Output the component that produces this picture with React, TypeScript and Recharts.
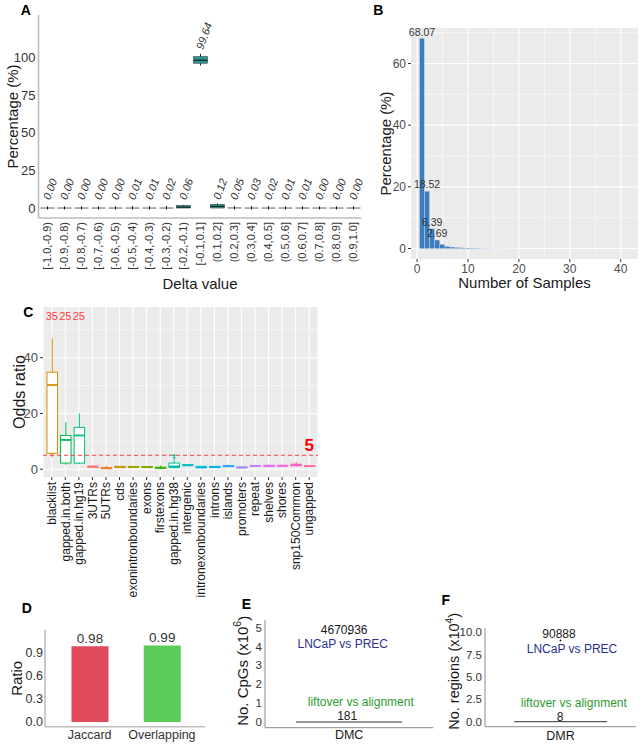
import React from 'react';
import {
  ComposedChart,
  Bar,
  Scatter,
  XAxis,
  YAxis,
  CartesianGrid,
  ReferenceLine,
  ReferenceDot,
  LabelList,
  Cell,
} from 'recharts';

const FONT = '"Liberation Sans", Arial, Helvetica, sans-serif';

// ---------- A: delta value bins (percentage per bin, boxplots over samples)
const deltaBins = [
  '[-1.0,-0.9)', '[-0.9,-0.8)', '[-0.8,-0.7)', '[-0.7,-0.6)', '[-0.6,-0.5)',
  '[-0.5,-0.4)', '[-0.4,-0.3)', '[-0.3,-0.2)', '[-0.2,-0.1)', '[-0.1,0.1]',
  '(0.1,0.2]', '(0.2,0.3]', '(0.3,0.4]', '(0.4,0.5]', '(0.5,0.6]',
  '(0.6,0.7]', '(0.7,0.8]', '(0.8,0.9]', '(0.9,1.0]',
];
const deltaPct = [0, 0, 0, 0, 0, 0.01, 0.01, 0.02, 0.06, 99.64, 0.12, 0.05, 0.03, 0.02, 0.01, 0.01, 0, 0, 0];
const deltaMin = [0, 0, 0, 0, 0, 0, 0, 0, 0, 94.5, 0, 0, 0, 0, 0, 0, 0, 0, 0];
const deltaQ1 = [0, 0, 0, 0, 0, 0, 0, 0, 0, 96, 0, 0, 0, 0, 0, 0, 0, 0, 0];
const deltaMed = [0, 0, 0, 0, 0, 0, 0, 0, 0.6, 98, 1.1, 0.1, 0, 0, 0, 0, 0, 0, 0];
const deltaQ3 = [0, 0, 0, 0, 0, 0, 0, 0, 1.8, 100.5, 2.5, 0.3, 0, 0, 0, 0, 0, 0, 0];
const deltaMax = [1.2, 1.2, 1.2, 1.2, 1.2, 1.3, 1.3, 1.4, 2.2, 102.3, 3.2, 1.5, 1.3, 1.3, 1.2, 1.2, 1.2, 1.2, 1.2];

// ---------- B: number of samples histogram
const sampleCounts = [1, 2, 3, 4, 5, 6, 7, 8, 9, 10, 11, 12, 13, 14, 15, 16, 17, 18, 19, 20];
const samplePct = [68.07, 18.52, 6.39, 2.69, 1.3, 0.65, 0.42, 0.3, 0.22, 0.17, 0.13, 0.1, 0.08, 0.065, 0.05, 0.04, 0.032, 0.025, 0.02, 0.015];
const samplePctLabels = ['68.07', '18.52', '6.39', '2.69', '', '', '', '', '', '', '', '', '', '', '', '', '', '', '', ''];

// ---------- C: odds ratio per genomic region
const regionNames = [
  'blacklist', 'gapped.in.both', 'gapped.in.hg19', '3UTRs', '5UTRs', 'cds',
  'exonintronboundaries', 'exons', 'firstexons', 'gapped.in.hg38', 'intergenic',
  'intronexonboundaries', 'introns', 'islands', 'promoters', 'repeat', 'shelves',
  'shores', 'snp150Common', 'ungapped',
];
const regionMin = [4.3, 1.6, 1.8, 0.6, 0.1, 0.5, 0.5, 0.5, 0.2, 0.3, 1.2, 0.4, 0.6, 0.8, 0.4, 1.0, 0.5, 1.0, 0.9, 0.9];
const regionQ1 = [5.7, 2.2, 2.2, 0.7, 0.2, 0.6, 0.6, 0.6, 0.35, 0.6, 1.3, 0.5, 0.7, 0.9, 0.5, 1.1, 1.0, 1.1, 1.2, 1.0];
const regionMed = [30.2, 10.5, 12.1, 0.9, 0.35, 0.8, 0.8, 0.75, 0.5, 1.0, 1.4, 0.7, 0.8, 1.1, 0.6, 1.2, 1.2, 1.2, 1.5, 1.1];
const regionQ3 = [34.8, 12.1, 15.0, 1.1, 0.6, 1.0, 1.0, 0.95, 0.7, 2.2, 1.6, 1.0, 1.0, 1.3, 0.8, 1.3, 1.4, 1.4, 1.8, 1.2];
const regionMax = [47, 16.8, 20, 1.2, 1.3, 1.1, 1.1, 1.0, 1.4, 3.5, 1.7, 1.1, 1.0, 1.6, 1.1, 1.4, 1.6, 1.6, 2.7, 1.3];
const regionOutliers: number[][] = [[], [], [], [], [], [], [], [], [], [4.1, 5.0], [], [], [], [], [], [], [], [], [], []];
const regionTopCount: (number | null)[] = [35, 25, 25, null, null, null, null, null, null, null, null, null, null, null, null, null, null, null, null, null];
const regionColors = [
  '#D89000', '#00BB4E', '#00BF7D', '#F8766D', '#EA8331', '#C09B00',
  '#A3A500', '#7CAE00', '#39B600', '#00C1A3', '#00BFC4', '#00BAE0',
  '#00B0F6', '#35A2FF', '#9590FF', '#C77CFF', '#E76BF3', '#FA62DB',
  '#FF62BC', '#FF6C91',
];
const oddsThreshold = 5;
const countLabelY = 55;

// ---------- D: Jaccard / overlapping ratio
const overlapNames = ['Jaccard', 'Overlapping'];
const overlapValues = [0.98, 0.99];
const overlapColors = ['#E04A5C', '#5BCB59'];

// ---------- E: DMC counts (x10^6)
const dmcCat = 'DMC';
const dmcTotal = 4.670936;
const dmcLiftover = 0.000181;
const dmcNoteText = ['4670936', 'LNCaP vs PREC', 'liftover vs alignment', '181'];
const dmcNoteY = [4.67, 3.94, 0.83, 0.13];

// ---------- F: DMR counts (x10^4)
const dmrCat = 'DMR';
const dmrTotal = 9.0888;
const dmrLiftover = 0.0008;
const dmrNoteText = ['90888', 'LNCaP vs PREC', 'liftover vs alignment', '8'];
const dmrNoteY = [9.41, 7.73, 1.69, 0.11];

const noteColors = ['#1a1a1a', '#2B2F8F', '#2E9B2E', '#1a1a1a'];
const dmcNoteDx = [-5, -6.4, 11.6, -2];
const dmrNoteDx = [-1.5, 11.5, 13.3, -0.5];

const AXIS_LIGHT = { stroke: '#bdbdbd', strokeWidth: 1.6 };
const AXIS_THIN = { stroke: '#8c8c8c', strokeWidth: 1 };

// rotated y-axis title, centred on the plot height
const yTitle = (text: string, dx: number, dy: number, size: number, sup?: string) => (p: any) => {
  const vb = p.viewBox;
  const cx = vb.x + dx;
  const cy = vb.y + vb.height / 2 + dy;
  return (
    <text
      x={cx}
      y={cy}
      transform={`rotate(-90 ${cx} ${cy})`}
      textAnchor="middle"
      dominantBaseline="central"
      fontSize={size}
      fill="#1a1a1a"
      fontFamily={FONT}
    >
      {text}
      {sup ? (
        <>
          <tspan dy={-size * 0.4} fontSize={size * 0.7}>{sup}</tspan>
          <tspan dy={size * 0.4}>)</tspan>
        </>
      ) : null}
    </text>
  );
};

const vTick = (size: number, fill: string, gap: number) => (p: any) => {
  const y = p.y + gap;
  return (
    <text x={p.x} y={y} transform={`rotate(-90 ${p.x} ${y})`} textAnchor="end" dy="0.35em" fontSize={size} fill={fill} fontFamily={FONT}>
      {p.payload.value}
    </text>
  );
};

const hTick = (size: number, fill: string, gap: number) => (p: any) => (
  <text x={p.x} y={p.y + gap} textAnchor="middle" dominantBaseline="central" fontSize={size} fill={fill} fontFamily={FONT}>
    {p.payload.value}
  </text>
);

// ---------- A
const deltaData = deltaBins.map((bin, i) => ({
  bin,
  pct: deltaPct[i],
  min: deltaMin[i],
  q1: deltaQ1[i],
  med: deltaMed[i],
  q3: deltaQ3[i],
  max: deltaMax[i],
  labelY: deltaPct[i] + 5,
}));

const deltaBoxShape = (props: any) => {
  const { x, y, width, height, payload } = props;
  const { min, q1, med, q3, max } = payload;
  const k = height / (max - min);
  const py = (v: number) => y + (max - v) * k;
  const cx = x + width / 2;
  const top = py(q3);
  const bot = py(q1);
  return (
    <g>
      {bot - top >= 1 ? (
        <>
          <line x1={cx} x2={cx} y1={py(max)} y2={py(min)} stroke="#222" strokeWidth={1} />
          <rect x={x} y={top} width={width} height={bot - top} fill="#26928b" stroke="#3a3a3a" strokeWidth={0.5} />
          <line x1={x} x2={x + width} y1={py(med)} y2={py(med)} stroke="#111" strokeWidth={1} />
        </>
      ) : (
        <>
          <line x1={x} x2={x + width} y1={py(med)} y2={py(med)} stroke="#9a9a9a" strokeWidth={1.6} />
          <line x1={cx} x2={cx} y1={py(max)} y2={py(min) + 1.5} stroke="#222" strokeWidth={1} />
        </>
      )}
    </g>
  );
};

const deltaLabelShape = (props: any) => {
  const { cx, cy, payload } = props;
  const ox = cx + 3;
  return (
    <text x={ox} y={cy} transform={`rotate(-70 ${ox} ${cy})`} fontSize={11} fontStyle="italic" fill="#333" fontFamily={FONT}>
      {payload.pct.toFixed(2)}
    </text>
  );
};

function DeltaChart() {
  return (
    <ComposedChart width={365} height={295} data={deltaData} margin={{ top: 15, right: 3.5, left: 0, bottom: 0 }}>
      <XAxis
        dataKey="bin"
        interval={0}
        height={77}
        tickSize={0}
        tickMargin={0}
        axisLine={AXIS_LIGHT}
        tickLine={false}
        tick={vTick(11, '#333', 4)}
        label={{ value: 'Delta value', position: 'insideBottom', offset: 6, fontSize: 15, fill: '#1a1a1a' }}
      />
      <YAxis
        width={38.5}
        domain={[-6.6, 128]}
        ticks={[0, 25, 50, 75, 100]}
        interval={0}
        tickSize={0}
        tickMargin={3}
        axisLine={AXIS_LIGHT}
        tickLine={false}
        tick={{ fontSize: 13, fill: '#333' }}
        label={yTitle('Percentage (%)', 12, 0, 15)}
      />
      <Bar dataKey={(d: any) => [d.min, d.max]} barSize={14} shape={deltaBoxShape} isAnimationActive={false} />
      <Scatter dataKey="labelY" shape={deltaLabelShape} isAnimationActive={false} />
    </ComposedChart>
  );
}

// ---------- B
const sampleData = sampleCounts.map((n, i) => ({ n, pct: samplePct[i], label: samplePctLabels[i] }));

function SamplesChart() {
  return (
    <ComposedChart width={302} height={295} data={sampleData} margin={{ top: 28, right: 4, left: 0, bottom: 0 }}>
      <CartesianGrid fill="#EBEBEB" stroke="#fff" strokeWidth={0.55} horizontalValues={[10, 30, 50, 70]} verticalValues={[5, 15, 25, 35]} />
      <CartesianGrid stroke="#fff" strokeWidth={1.1} horizontalValues={[0, 20, 40, 60]} verticalValues={[0, 10, 20, 30, 40]} />
      <XAxis
        type="number"
        dataKey="n"
        domain={[-1.2, 43.4]}
        ticks={[0, 10, 20, 30, 40]}
        interval={0}
        height={36}
        tickSize={3}
        tickMargin={2}
        axisLine={false}
        tickLine={{ stroke: '#333' }}
        tick={{ fontSize: 12, fill: '#4d4d4d' }}
        label={{ value: 'Number of Samples', position: 'insideBottom', offset: 7, fontSize: 15, fill: '#1a1a1a' }}
      />
      <YAxis
        width={71}
        domain={[-3.4, 71.5]}
        ticks={[0, 20, 40, 60]}
        interval={0}
        tickSize={3}
        tickMargin={2}
        axisLine={false}
        tickLine={{ stroke: '#333' }}
        tick={{ fontSize: 12, fill: '#4d4d4d' }}
        label={yTitle('Percentage (%)', 45, 0, 15)}
      />
      <Bar dataKey="pct" fill="#3b7dbf" barSize={4.6} isAnimationActive={false}>
        <LabelList dataKey="label" position="top" offset={3} fontSize={10.5} fill="#333" />
      </Bar>
    </ComposedChart>
  );
}

// ---------- C
const regionData = regionNames.map((cat, i) => ({
  cat,
  min: regionMin[i],
  q1: regionQ1[i],
  med: regionMed[i],
  q3: regionQ3[i],
  max: regionMax[i],
  outliers: regionOutliers[i],
  color: regionColors[i],
}));

const regionBoxShape = (props: any) => {
  const { x, y, width, height, payload } = props;
  const { min, q1, med, q3, max, color, outliers } = payload;
  const k = height / (max - min);
  const py = (v: number) => y + (max - v) * k;
  const cx = x + width / 2;
  const top = py(q3);
  const bot = py(q1);
  return (
    <g>
      <line x1={cx} x2={cx} y1={py(max)} y2={py(min)} stroke={color} strokeWidth={1} />
      <rect x={x} y={top} width={width} height={Math.max(bot - top, 0.5)} fill="#fff" stroke={color} strokeWidth={1} />
      <line x1={x} x2={x + width} y1={py(med)} y2={py(med)} stroke={color} strokeWidth={1.8} />
      {outliers.map((o: number) => (
        <circle key={o} cx={cx} cy={py(o)} r={1.2} fill={color} />
      ))}
    </g>
  );
};

const countLabel = (text: string) => (p: any) => (
  <text x={p.cx} y={p.cy} textAnchor="middle" dominantBaseline="central" fontSize={11} fill="#FF3B3B" fontFamily={FONT}>
    {text}
  </text>
);

function RegionChart() {
  return (
    <ComposedChart width={330} height={307} data={regionData} margin={{ top: 12, right: 12, left: 0, bottom: 0 }}>
      <CartesianGrid fill="#EBEBEB" stroke="#fff" strokeWidth={0.55} vertical={false} horizontalValues={[10, 30, 50]} />
      <CartesianGrid stroke="#fff" strokeWidth={1.1} horizontalValues={[0, 20, 40]} />
      <XAxis
        dataKey="cat"
        interval={0}
        height={125}
        padding={{ left: 2, right: 2 }}
        tickSize={3}
        tickMargin={0}
        axisLine={false}
        tickLine={{ stroke: '#333' }}
        tick={vTick(12, '#1a1a1a', 2)}
      />
      <YAxis
        width={43}
        domain={[-2.8, 58.2]}
        ticks={[0, 20, 40]}
        interval={0}
        tickSize={3}
        tickMargin={2}
        axisLine={false}
        tickLine={{ stroke: '#333' }}
        tick={{ fontSize: 13, fill: '#4d4d4d' }}
        label={yTitle('Odds ratio', 19, 0, 16)}
      />
      <Bar dataKey={(d: any) => [d.min, d.max]} barSize={10.5} shape={regionBoxShape} isAnimationActive={false} />
      <ReferenceLine
        y={oddsThreshold}
        stroke="#FF2A2A"
        strokeWidth={0.9}
        strokeDasharray="4 3"
        label={{ value: String(oddsThreshold), position: 'insideBottomRight', offset: 4, fontSize: 17, fontWeight: 'bold', fill: '#FF0000' }}
      />
      {regionNames.map((cat, i) =>
        regionTopCount[i] == null ? null : (
          <ReferenceDot key={cat} x={cat} y={countLabelY} r={0} shape={countLabel(String(regionTopCount[i]))} />
        ),
      )}
    </ComposedChart>
  );
}

// ---------- D
const overlapData = overlapNames.map((name, i) => ({ name, value: overlapValues[i] }));

function OverlapChart() {
  return (
    <ComposedChart width={215} height={145} data={overlapData} margin={{ top: 30, right: 10, left: 0, bottom: 0 }}>
      <XAxis
        dataKey="name"
        height={18.3}
        padding={{ left: 8.5, right: 7 }}
        tickSize={0}
        tickMargin={0}
        axisLine={AXIS_LIGHT}
        tickLine={false}
        tick={hTick(12.5, '#333', 8.5)}
      />
      <YAxis
        width={45}
        domain={[-0.06, 1.19]}
        ticks={[0, 0.3, 0.6, 0.9]}
        interval={0}
        tickFormatter={(v: number) => v.toFixed(1)}
        tickSize={0}
        tickMargin={2}
        axisLine={AXIS_LIGHT}
        tickLine={false}
        tick={{ fontSize: 12.5, fill: '#333' }}
        label={yTitle('Ratio', 17, 0, 15)}
      />
      <Bar dataKey="value" barSize={37} isAnimationActive={false}>
        {overlapData.map((d, i) => (
          <Cell key={d.name} fill={overlapColors[i]} />
        ))}
        <LabelList dataKey="value" position="top" offset={3} fontSize={13.5} fill="#333" formatter={(v: any) => Number(v).toFixed(2)} />
      </Bar>
    </ComposedChart>
  );
}

// ---------- E / F
const baseLineShape = (p: any) => (
  <line x1={p.x} x2={p.x + p.width} y1={p.y} y2={p.y} stroke="#333" strokeWidth={1} />
);

const dotShape = (p: any) => <circle cx={p.cx} cy={p.cy} r={1} fill="#222" />;

const noteShape = (text: string, color: string, dx: number) => (p: any) => (
  <text x={p.cx + dx} y={p.cy} textAnchor="middle" fontSize={12} fill={color} fontFamily={FONT}>
    {text}
  </text>
);

interface CountPanelProps {
  cat: string;
  total: number;
  liftover: number;
  noteText: string[];
  noteY: number[];
  noteDx: number[];
  width: number;
  top: number;
  right: number;
  xHeight: number;
  yWidth: number;
  domain: [number, number];
  ticks: number[];
  fmt: (v: number) => string;
  title: string;
  sup: string;
  titleDx: number;
  titleDy: number;
  titleSize: number;
  lineWidth: number;
  catGap: number;
}

function CountPanel(props: CountPanelProps) {
  const data = [{ cat: props.cat, total: props.total, liftover: props.liftover }];
  return (
    <ComposedChart width={props.width} height={165} data={data} margin={{ top: props.top, right: props.right, left: 0, bottom: 0 }}>
      <XAxis
        dataKey="cat"
        height={props.xHeight}
        tickSize={0}
        tickMargin={0}
        axisLine={AXIS_THIN}
        tickLine={false}
        tick={hTick(12.5, '#1a1a1a', props.catGap)}
      />
      <YAxis
        width={props.yWidth}
        domain={props.domain}
        ticks={props.ticks}
        interval={0}
        tickFormatter={props.fmt}
        tickSize={0}
        tickMargin={3}
        axisLine={AXIS_THIN}
        tickLine={false}
        tick={{ fontSize: 11.5, fill: '#333' }}
        label={yTitle(props.title, props.titleDx, props.titleDy, props.titleSize, props.sup)}
      />
      <Bar dataKey="liftover" barSize={props.lineWidth} shape={baseLineShape} isAnimationActive={false} />
      <Scatter dataKey="total" shape={dotShape} isAnimationActive={false} />
      {props.noteText.map((t, i) => (
        <ReferenceDot key={t} x={props.cat} y={props.noteY[i]} r={0} shape={noteShape(t, noteColors[i], props.noteDx[i])} />
      ))}
    </ComposedChart>
  );
}

const letters: [string, number, number][] = [
  ['A', 20.7, 15],
  ['B', 373.3, 15],
  ['C', 23.3, 317.3],
  ['D', 21.7, 613.3],
  ['E', 241.7, 609],
  ['F', 441.5, 605],
];

export default function App() {
  return (
    <div style={{ position: 'absolute', left: 0, top: 0, width: 642, height: 745, background: '#fff', fontFamily: FONT, overflow: 'hidden' }}>
      <div style={{ position: 'absolute', left: 0, top: 0 }}>
        <DeltaChart />
      </div>
      <div style={{ position: 'absolute', left: 340, top: 0 }}>
        <SamplesChart />
      </div>
      <div style={{ position: 'absolute', left: 0, top: 295 }}>
        <RegionChart />
      </div>
      <div style={{ position: 'absolute', left: 0, top: 600 }}>
        <OverlapChart />
      </div>
      <div style={{ position: 'absolute', left: 217, top: 580 }}>
        <CountPanel
          cat={dmcCat}
          total={dmcTotal}
          liftover={dmcLiftover}
          noteText={dmcNoteText}
          noteY={dmcNoteY}
          noteDx={dmcNoteDx}
          width={217}
          top={40}
          right={0.7}
          xHeight={17.3}
          yWidth={48}
          domain={[-0.3, 5.4]}
          ticks={[0, 1, 2, 3, 4, 5]}
          fmt={(v) => String(v)}
          title="No. CpGs (x10"
          sup="6"
          titleDx={25.7}
          titleDy={-3}
          titleSize={15}
          lineWidth={106}
          catGap={7.3}
        />
      </div>
      <div style={{ position: 'absolute', left: 430, top: 580 }}>
        <CountPanel
          cat={dmrCat}
          total={dmrTotal}
          liftover={dmrLiftover}
          noteText={dmrNoteText}
          noteY={dmrNoteY}
          noteDx={dmrNoteDx}
          width={210}
          top={48}
          right={4}
          xHeight={18.3}
          yWidth={55}
          domain={[-0.56, 10.48]}
          ticks={[0, 2.5, 5, 7.5, 10]}
          fmt={(v) => v.toFixed(1)}
          title="No. regions (x10"
          sup="4"
          titleDx={24.5}
          titleDy={-6}
          titleSize={14.5}
          lineWidth={93}
          catGap={9.1}
        />
      </div>
      <svg width={642} height={745} style={{ position: 'absolute', left: 0, top: 0, pointerEvents: 'none' }}>
        {letters.map(([t, x, y]) => (
          <text key={t} x={x} y={y} fontSize={14} fontWeight="bold" fill="#000" fontFamily={FONT}>
            {t}
          </text>
        ))}
      </svg>
    </div>
  );
}
